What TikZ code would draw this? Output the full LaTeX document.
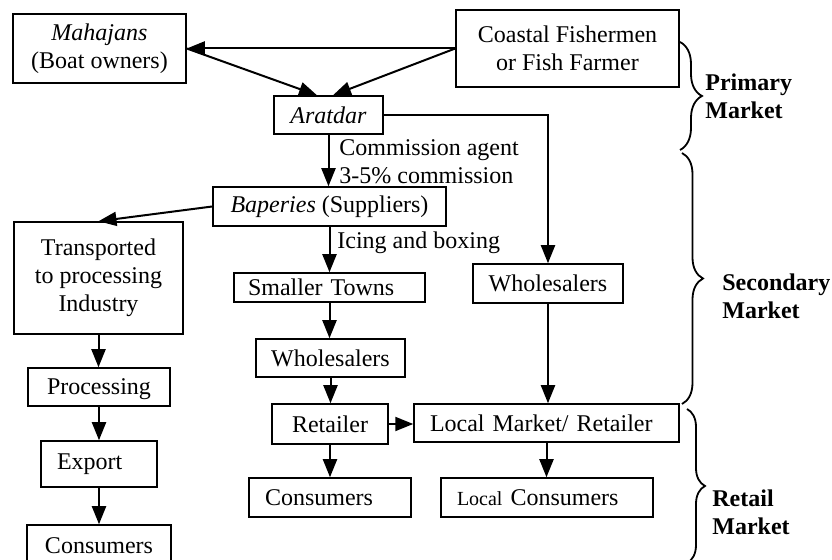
\documentclass[tikz,border=0pt]{standalone}
\usepackage{fontspec}
\setmainfont{Liberation Serif}
\usetikzlibrary{arrows.meta,decorations.pathreplacing}

\begin{document}
\begin{tikzpicture}[x=0.5pt,y=-0.5pt,
    font=\fontsize{12}{14}\selectfont,
    box/.style={draw, line width=0.75pt, inner sep=0pt, align=center},
    arr/.style={line width=1pt, -{Triangle[length=9pt,width=7pt]}},
    brc/.style={decorate, decoration={brace,amplitude=#1}, line width=0.9pt},
    mkt/.style={anchor=west, align=left, inner sep=0pt,
      font=\fontsize{12}{14}\selectfont\bfseries}]
  \useasboundingbox (0,0) rectangle (832,560);

  % Primary market: catch and first sale
  \node [box, minimum width=86.5pt, minimum height=34.5pt] (mahajans) at (99.5,48.5)
    {\textit{Mahajans}\\(Boat owners)};
  \node [box, minimum width=111.5pt, minimum height=38.5pt] (fisher) at (567.5,48.5)
    {Coastal Fishermen\\or Fish Farmer};
  \node [box, minimum width=54.5pt, minimum height=19pt] (aratdar) at (328.5,115)
    {\textit{Aratdar}};

  % Secondary market
  \node [box, minimum width=116.5pt, minimum height=19.5pt] (baperies) at (329.5,206.5)
    {\textit{Baperies} (Suppliers)};
  \node [box, minimum width=84.5pt, minimum height=56pt] (transported) at (98.5,278)
    {Transported\\to processing\\Industry};
  \node [box, minimum width=71pt, minimum height=19pt, text depth=0pt] (processing) at (99,387)
    {Processing};
  \node [box, text width=42pt, inner xsep=8pt, align=left, minimum height=23pt] (export) at (99,464)
    {Export};
  \node [box, minimum width=72pt, minimum height=21pt] (consL) at (99,546)
    {Consumers};
  \node [box, text width=81.5pt, inner xsep=7pt, align=left, minimum height=14.5pt] (towns) at (329.5,287.5)
    {Smaller Towns};
  \node [box, minimum width=74.5pt, minimum height=19pt] (wholesM) at (330.5,358)
    {Wholesalers};
  \node [box, minimum width=75pt, minimum height=19.5pt] (wholesR) at (548,283.5)
    {Wholesalers};

  % Retail market
  \node [box, minimum width=58pt, minimum height=20pt] (retailer) at (330,424)
    {Retailer};
  \node [box, text width=116.5pt, inner xsep=8pt, align=left, minimum height=19pt] (localmkt) at (546.5,423)
    {Local Market/ Retailer};
  \node [box, text width=65pt, inner xsep=8pt, align=left, minimum height=19.5pt] (consM) at (330,497.5)
    {Consumers};
  \node [box, text width=90pt, inner xsep=8pt, align=left, minimum height=19.5pt] (localcons) at (547,497.5)
    {{\fontsize{10}{12}\selectfont Local} Consumers};

  % Notes beside the arrows
  \node [anchor=west, align=left, inner sep=0pt] (commission) at (339,161.5)
    {Commission agent\\3-5\% commission};
  \node [anchor=west, inner sep=0pt] (icing) at (337,243) {Icing and boxing};

  % Arrows
  \draw [arr] (fisher.west) -- (mahajans.east);
  \draw [arr] (fisher.west) -- ([xshift=2.25pt]aratdar.north);
  \draw [arr] (mahajans.east) -- ([xshift=-5.75pt]aratdar.north);
  \draw [arr] (aratdar.south) -- (aratdar.south |- baperies.north);
  \draw [arr] (aratdar.east) -| (wholesR.north);
  \draw [arr] (baperies.west) -- (transported.north);
  \foreach \a/\b in {baperies/towns, towns/wholesM, wholesM/retailer, retailer/consM,
      transported/processing, processing/export, export/consL,
      wholesR/localmkt, localmkt/localcons} {
    \draw [arr] (\a.south) -- (\a.south |- \b.north);
  }
  \draw [arr] (retailer.east) -- (retailer.east -| localmkt.west);

  % Braces and market levels
  \draw [brc=11pt] (680,42) -- (680,150);
  \draw [brc=10.5pt] (682,153) -- (682,404);
  \draw [brc=9pt] (687,409) -- (687,563);
  \node [mkt] (primary) at (705,96.5) {Primary\\Market};
  \node [mkt] (secondary) at (722,296) {Secondary\\Market};
  \node [mkt] (retail) at (712,512) {Retail\\Market};
\end{tikzpicture}
\end{document}
